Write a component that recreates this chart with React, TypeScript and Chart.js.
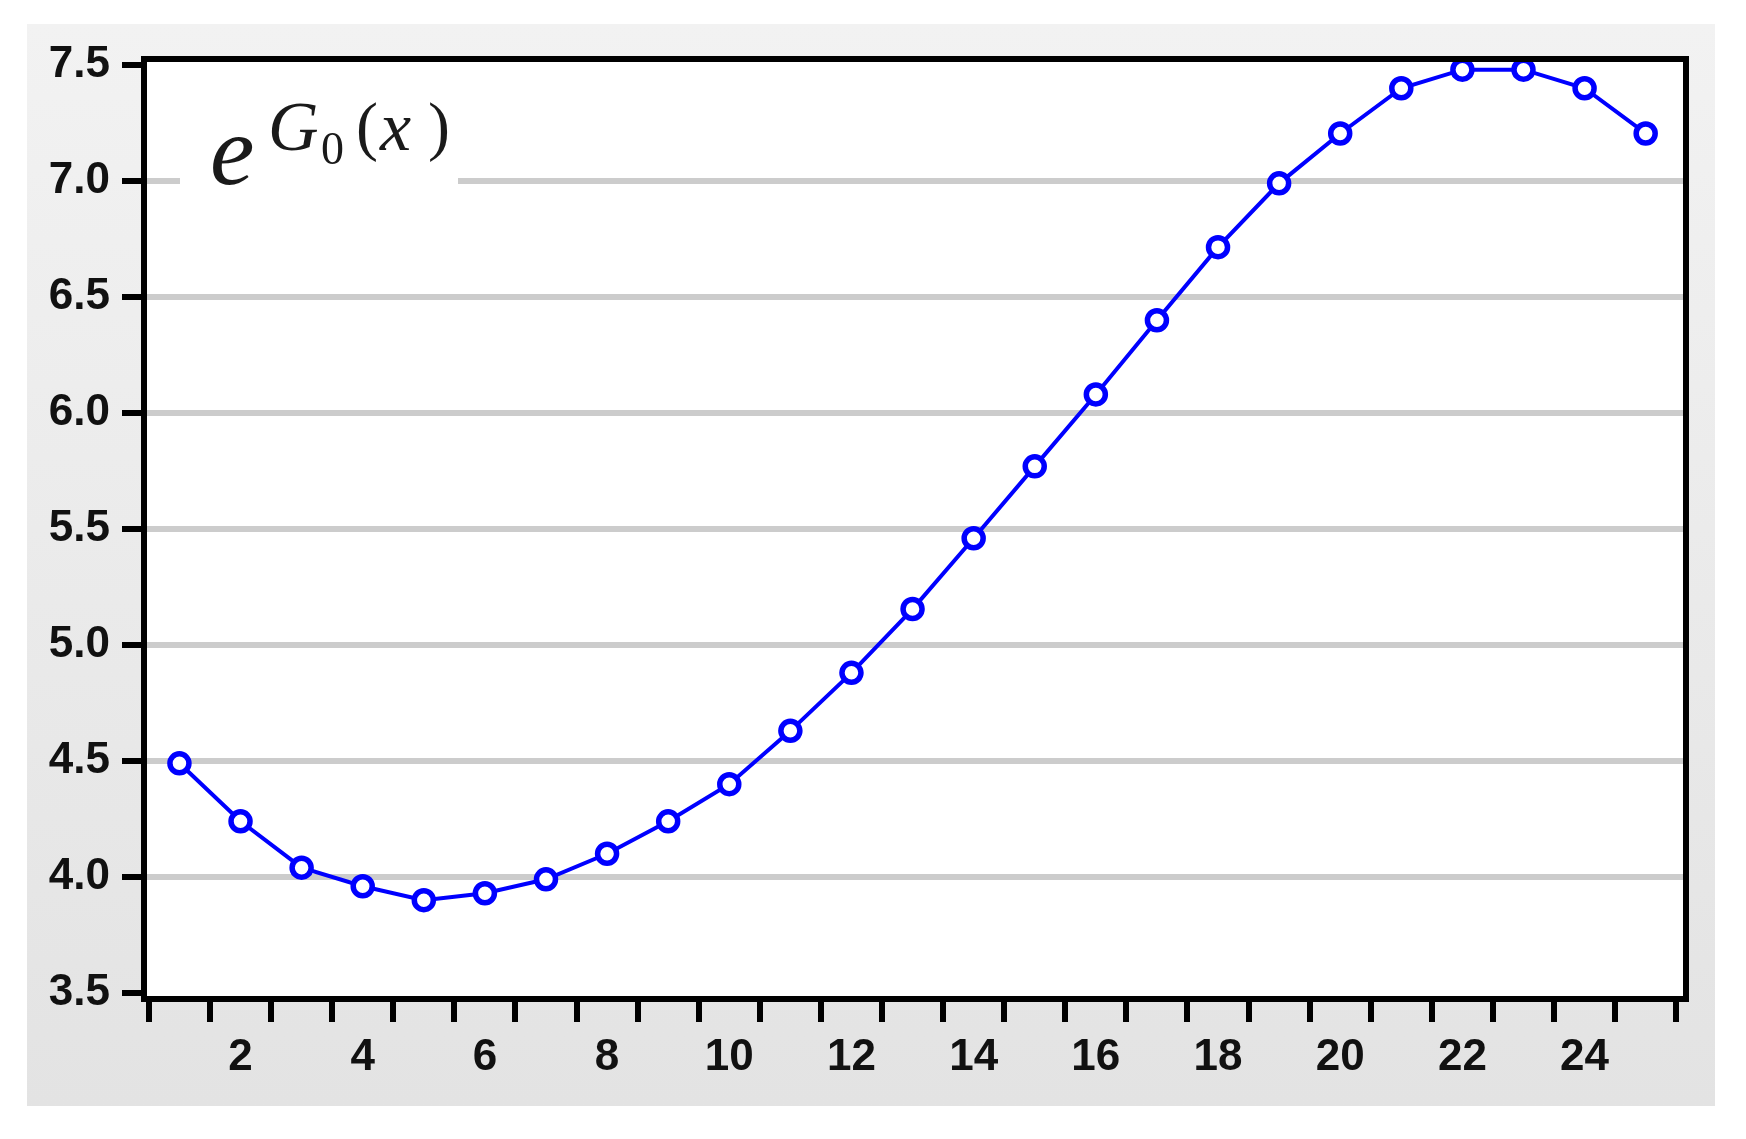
import React, { useEffect, useRef } from "react";
import { Chart, registerables } from "chart.js";

Chart.register(...registerables);

// ---- data ----
const xValues = [1, 2, 3, 4, 5, 6, 7, 8, 9, 10, 11, 12, 13, 14, 15, 16, 17, 18, 19, 20, 21, 22, 23, 24, 25];
const yValues = [4.49, 4.24, 4.04, 3.96, 3.9, 3.93, 3.99, 4.1, 4.24, 4.4, 4.63, 4.88, 5.155, 5.46, 5.77, 6.08, 6.4, 6.715, 6.99, 7.205, 7.4, 7.48, 7.48, 7.4, 7.205];
const yTickValues = [3.5, 4.0, 4.5, 5.0, 5.5, 6.0, 6.5, 7.0, 7.5];
const xTickLabels = [2, 4, 6, 8, 10, 12, 14, 16, 18, 20, 22, 24];
const titlePieces = [
  { text: "e", font: 'italic 100px "Liberation Serif", serif', x: 210, y: 184 },
  { text: "G", font: 'italic 70px "Liberation Serif", serif', x: 268, y: 150 },
  { text: "0", font: '46px "Liberation Serif", serif', x: 321, y: 164 },
  { text: "(", font: '66px "Liberation Serif", serif', x: 356, y: 148 },
  { text: "x", font: 'italic 70px "Liberation Serif", serif', x: 380, y: 150 },
  { text: ")", font: '66px "Liberation Serif", serif', x: 428, y: 148 },
];

const W = 1746;
const H = 1139;

const backgroundPlugin = {
  id: "panelBg",
  beforeDraw(chart: any) {
    const { ctx, chartArea } = chart;
    ctx.save();
    const g = ctx.createLinearGradient(0, 24, 0, 1106);
    g.addColorStop(0, "#f2f2f2");
    g.addColorStop(1, "#e3e3e3");
    ctx.fillStyle = g;
    ctx.fillRect(27, 24, 1715 - 27, 1106 - 24);
    ctx.fillStyle = "#ffffff";
    ctx.fillRect(chartArea.left, chartArea.top, chartArea.right - chartArea.left, chartArea.bottom - chartArea.top);
    ctx.restore();
  },
};

const framePlugin = {
  id: "frameAndTitle",
  afterDatasetsDraw(chart: any) {
    const { ctx, chartArea } = chart;
    ctx.save();
    // title box
    ctx.fillStyle = "#ffffff";
    ctx.fillRect(180, 88, 458 - 180, 192 - 88);
    ctx.fillStyle = "#1a1a1a";
    ctx.textBaseline = "alphabetic";
    ctx.textAlign = "left";
    for (const p of titlePieces) {
      ctx.font = p.font;
      ctx.fillText(p.text, p.x, p.y);
    }
    // frame
    ctx.strokeStyle = "#000000";
    ctx.lineWidth = 6;
    ctx.lineJoin = "miter";
    ctx.strokeRect(chartArea.left, chartArea.top, chartArea.right - chartArea.left, chartArea.bottom - chartArea.top);
    ctx.restore();
  },
};

export default function App() {
  const canvasRef = useRef<HTMLCanvasElement | null>(null);

  useEffect(() => {
    if (!canvasRef.current) return;
    const tickFont = { family: '"Liberation Sans", Arial, sans-serif', size: 44, weight: "bold" as const };
    const xTickPositions: number[] = [];
    xValues.forEach((v, i) => {
      xTickPositions.push(v - 0.5);
      xTickPositions.push(v);
      if (i === xValues.length - 1) xTickPositions.push(v + 0.5);
    });

    const chart = new Chart(canvasRef.current, {
      type: "line",
      data: {
        datasets: [
          {
            data: xValues.map((x, i) => ({ x, y: yValues[i] })),
            borderColor: "#0000ff",
            borderWidth: 4,
            pointRadius: 9.5,
            pointBorderWidth: 5.5,
            pointBackgroundColor: "#ffffff",
            pointBorderColor: "#0000ff",
            pointHoverRadius: 9.5,
            tension: 0,
            clip: false as any,
          },
        ],
      },
      options: {
        responsive: false,
        animation: false,
        devicePixelRatio: 1,
        layout: { padding: { left: 0, right: 60, top: 59, bottom: 40 } },
        plugins: {
          legend: { display: false },
          tooltip: { enabled: false },
          title: { display: false },
        },
        scales: {
          x: {
            type: "linear",
            min: 0.42,
            max: 25.66,
            afterBuildTicks: (scale: any) => {
              scale.ticks = xTickPositions.map((v) => ({ value: v }));
            },
            afterFit: (scale: any) => {
              scale.height = 100;
            },
            border: { display: false },
            grid: {
              drawOnChartArea: false,
              drawTicks: true,
              tickLength: 23,
              tickWidth: 6,
              lineWidth: 6,
              tickColor: (ctx: any) =>
                ctx.tick && Math.abs(ctx.tick.value % 1) > 0.01 ? "#000000" : "rgba(0,0,0,0)",
            },
            ticks: {
              autoSkip: false,
              maxRotation: 0,
              minRotation: 0,
              padding: 9,
              color: "#111111",
              font: tickFont,
              callback: (value: any) => (xTickLabels.includes(Number(value)) ? String(value) : ""),
            },
          },
          y: {
            type: "linear",
            min: 3.474,
            max: 7.526,
            afterBuildTicks: (scale: any) => {
              scale.ticks = yTickValues.map((v) => ({ value: v }));
            },
            afterFit: (scale: any) => {
              scale.width = 144;
            },
            border: { display: false },
            grid: {
              drawOnChartArea: true,
              lineWidth: 6,
              color: (ctx: any) =>
                ctx.tick && (ctx.tick.value === yTickValues[0] || ctx.tick.value === yTickValues[yTickValues.length - 1])
                  ? "rgba(0,0,0,0)"
                  : "#cccccc",
              tickColor: "#000000",
              tickWidth: 6,
              tickLength: 22,
            },
            ticks: {
              padding: 12,
              color: "#111111",
              font: tickFont,
              callback: (value: any) => Number(value).toFixed(1),
            },
          },
        },
      },
      plugins: [backgroundPlugin, framePlugin],
    });

    return () => chart.destroy();
  }, []);

  return (
    <div style={{ position: "absolute", left: 0, top: 0, width: W, height: H, background: "#ffffff" }}>
      <canvas ref={canvasRef} width={W} height={H} style={{ display: "block" }} />
    </div>
  );
}
